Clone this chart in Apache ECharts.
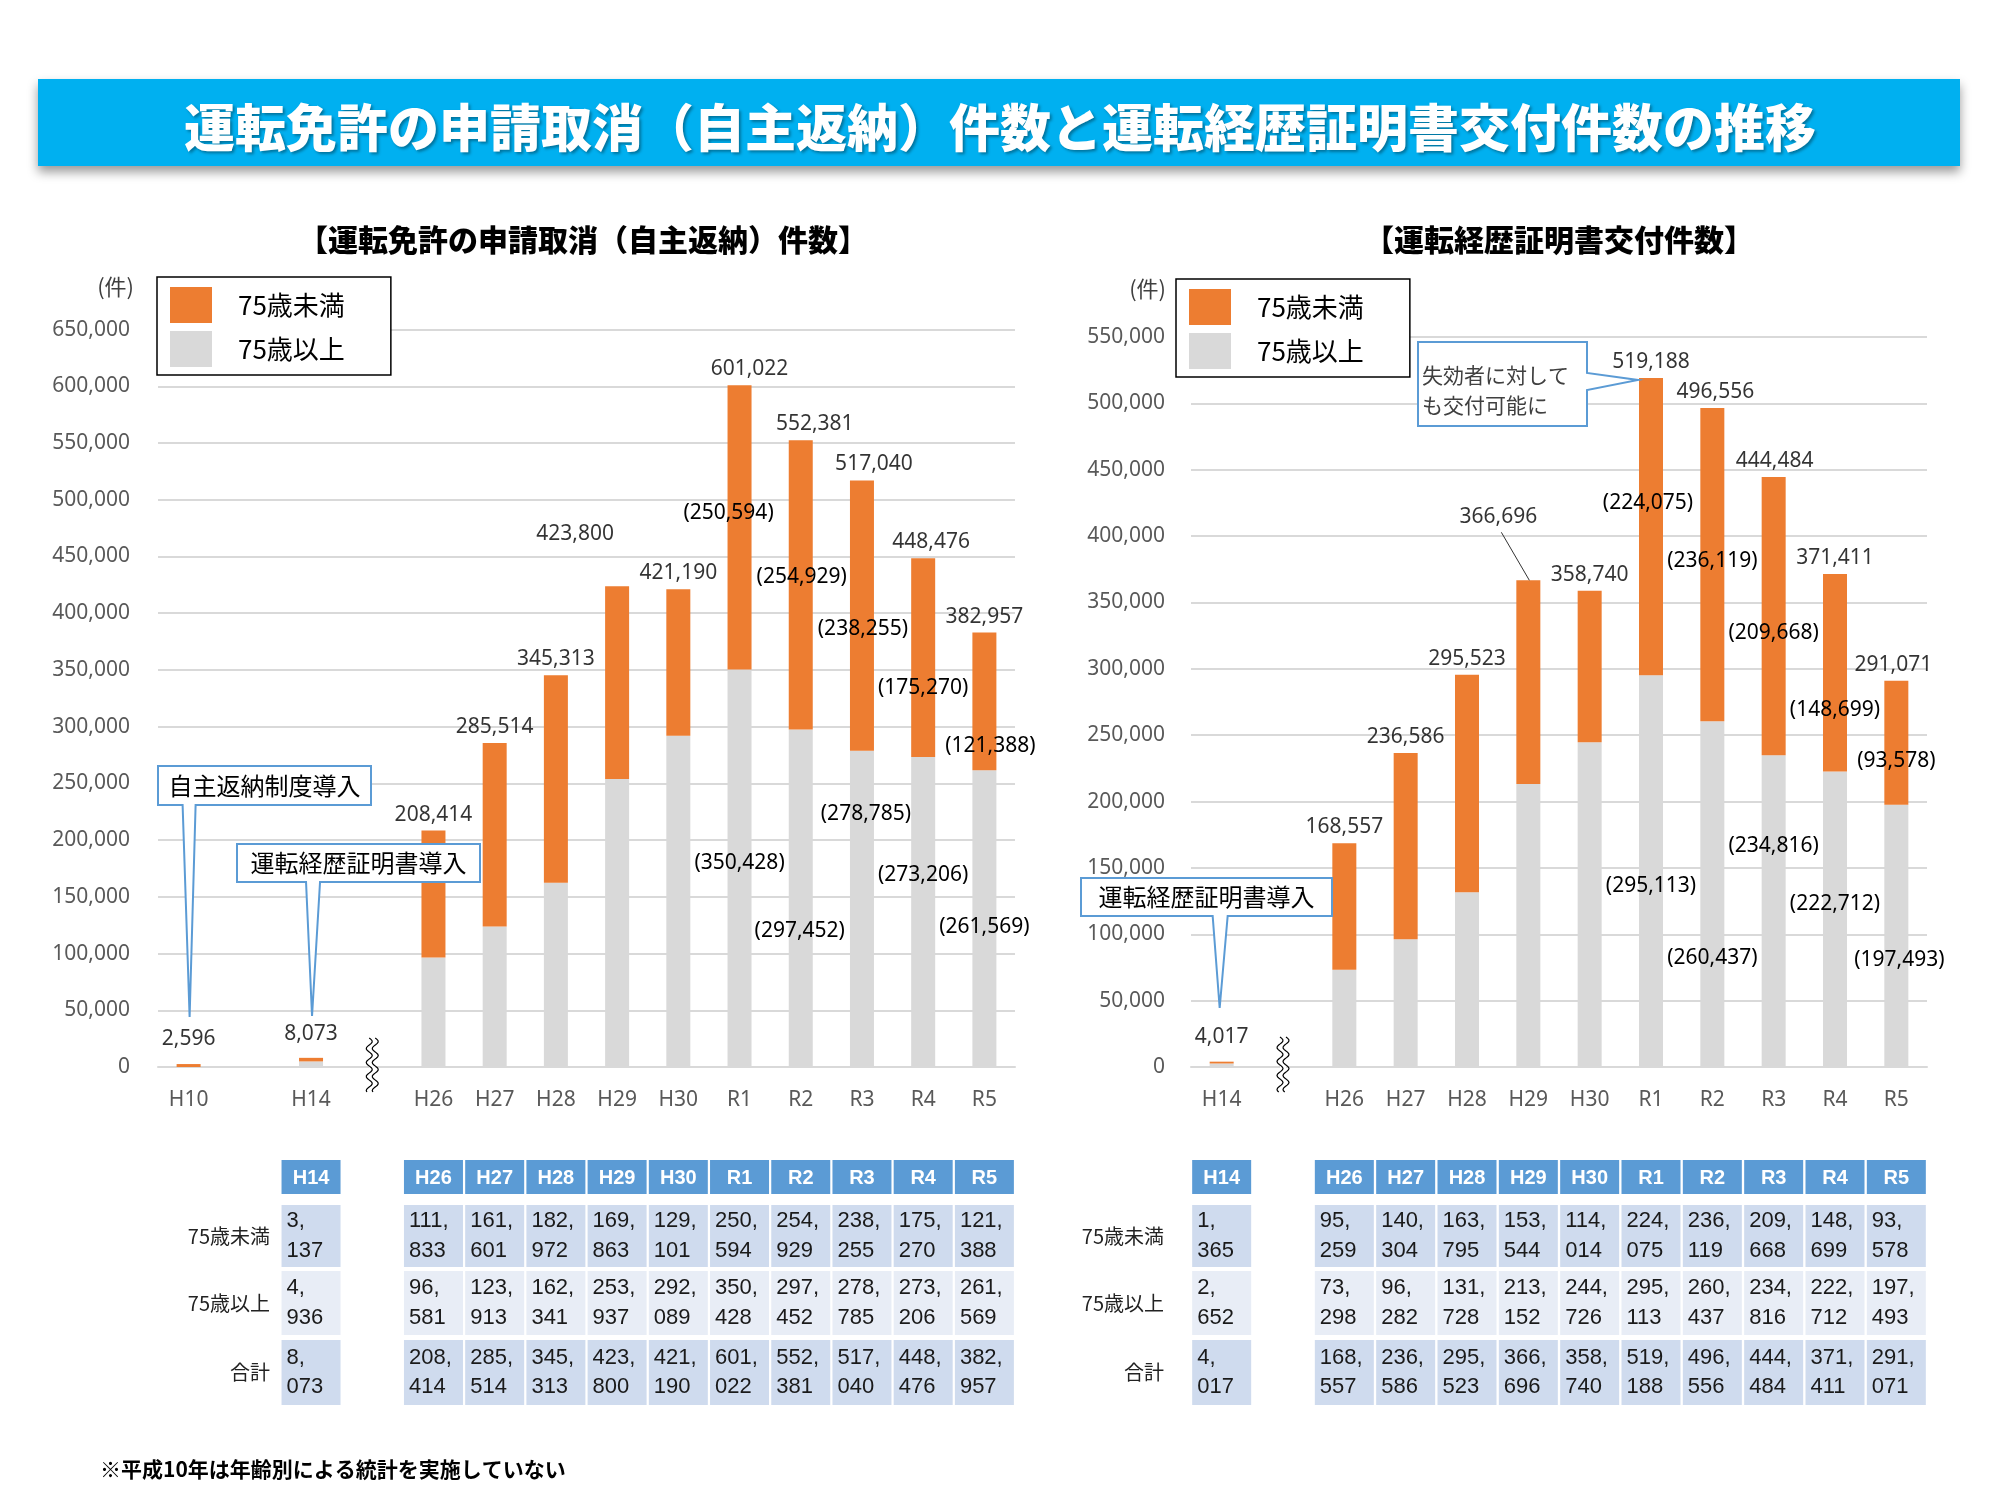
<!DOCTYPE html>
<html><head><meta charset="utf-8">
<script src="https://cdn.jsdelivr.net/npm/echarts@6/dist/echarts.min.js"></script>
<style>html,body{margin:0;padding:0;background:#fff}#c{width:2000px;height:1500px}</style>
</head><body><div id="c"></div><script>
// ---------- data ----------
const catsA = ['H10','','H14',' ','H26','H27','H28','H29','H30','R1','R2','R3','R4','R5'];
const underA = [2596,null,3137,null,111833,161601,182972,169863,129101,250594,254929,238255,175270,121388];
const overA  = [null,null,4936,null,96581,123913,162341,253937,292089,350428,297452,278785,273206,261569];
const totalA = [2596,null,8073,null,208414,285514,345313,423800,421190,601022,552381,517040,448476,382957];

const catsB = ['H14',' ','H26','H27','H28','H29','H30','R1','R2','R3','R4','R5'];
const underB = [1365,null,95259,140304,163795,153544,114014,224075,236119,209668,148699,93578];
const overB  = [2652,null,73298,96282,131728,213152,244726,295113,260437,234816,222712,197493];
const totalB = [4017,null,168557,236586,295523,366696,358740,519188,496556,444484,371411,291071];

const seriesNames = ['75歳未満','75歳以上'];
const rowLabels = ['75歳未満','75歳以上','合計'];
const titleText = '運転免許の申請取消（自主返納）件数と運転経歴証明書交付件数の推移';
const subTitleA = '【運転免許の申請取消（自主返納）件数】';
const subTitleB = '【運転経歴証明書交付件数】';
const footnote = '※平成10年は年齢別による統計を実施していない';

// ---------- styling (label offsets etc.) ----------
const parenIdxA = [9,10,11,12,13];
const offUnderA = [[-11,-14],[1,-8],[1,13],[0,30],[6,45]];
const offOverA  = [[0,-5],[-1,33],[4,-95],[0,-37],[0,8]];
const parenIdxB = [7,8,9,10,11];
const offUnderB = [[-3,-24],[0,-4],[0,17],[0,37],[0,18]];
const offOverB  = [[0,15],[0,64],[0,-65],[0,-15],[3,24]];
const totOffA = {0:[0,-9],2:[0,-8],7:[-42,-36],9:[10,0],10:[14,0],11:[12,0],12:[8,0]};
const totOffB = {0:[0,-9],5:[-30,-47],8:[3,0],9:[1,0],11:[-3,0]};

const FONT = "'Noto Sans','Noto Sans CJK JP',sans-serif";
const JP = "'Noto Sans CJK JP',sans-serif";
const NUM = "'Liberation Sans',sans-serif";
const ORANGE = '#ED7D31', GREY = '#D9D9D9', BLUE = '#5B9BD5';

function fmt(v){ return Number(v).toLocaleString('en-US'); }
function fmt2(v){ return Math.floor(v/1000) + ',\n' + String(v%1000).padStart(3,'0'); }

function barData(vals, idxs, offs){
  return vals.map((v,i)=>{
    if (v == null) return '-';
    const k = idxs.indexOf(i);
    if (k < 0) return v;
    return {value:v, label:{show:true, position:'inside', offset:offs[k], color:'#000',
      fontSize:21, fontFamily:FONT, textBorderWidth:0,
      formatter:p=>'('+fmt(p.value)+')'}};
  });
}
function totData(vals, offs){
  const out = [];
  vals.forEach((v,i)=>{ if (v != null) out.push({value:[i,v], label:{offset: offs[i] || [0,0]}}); });
  return out;
}

function xAxisCfg(g, cats){
  return {type:'category', gridIndex:g, data:cats,
    axisLine:{lineStyle:{color:'#D9D9D9', width:2}}, axisTick:{show:false},
    axisLabel:{color:'#595959', fontSize:21, margin:23, interval:0, fontFamily:FONT}};
}
function yAxisCfg(g, max, margin){
  return {type:'value', gridIndex:g, min:0, max:max, interval:50000,
    axisLine:{show:false}, axisTick:{show:false},
    splitLine:{lineStyle:{color:'#D9D9D9', width:2}},
    axisLabel:{color:'#595959', fontSize:21, margin:margin, fontFamily:FONT, formatter:v=>fmt(v)}};
}
function legendCfg(left, top){
  return {data:seriesNames, orient:'vertical', left:left, top:top, itemWidth:42, itemHeight:36, itemGap:8,
    icon:'rect', padding:[10,46,8,13], borderColor:'#000', borderWidth:1.5, backgroundColor:'#fff',
    selectedMode:false, textStyle:{fontSize:26, color:'#000', fontFamily:JP, padding:[0,0,0,21]}};
}
function barSeries(name, g, stack, color, data){
  return {type:'bar', name:name, xAxisIndex:g, yAxisIndex:g, stack:stack, barWidth:24,
    itemStyle:{color:color}, label:{show:false}, data:data, silent:true};
}
function totSeries(g, data){
  return {type:'scatter', name:'合計'+g, xAxisIndex:g, yAxisIndex:g, symbolSize:1,
    itemStyle:{color:'rgba(0,0,0,0)'}, silent:true, z:5,
    label:{show:true, position:'top', distance:5, color:'#000', fontSize:21, fontFamily:FONT,
      formatter:p=>fmt(p.value[1])}, data:data};
}

const chart = echarts.init(document.getElementById('c'), null, {renderer:'canvas', width:2000, height:1500});
const option = {
  animation:false, backgroundColor:'#fff', textStyle:{fontFamily:FONT},
  grid:[{left:158, top:329.6, width:857, height:737.4}, {left:1191, top:337, width:736, height:730}],
  xAxis:[xAxisCfg(0, catsA), xAxisCfg(1, catsB)],
  yAxis:[yAxisCfg(0, 650000, 28), yAxisCfg(1, 550000, 26)],
  legend:[legendCfg(157, 277), legendCfg(1176, 279)],
  series:[
    barSeries('75歳以上', 0, 'a', GREY, barData(overA, parenIdxA, offOverA)),
    barSeries('75歳未満', 0, 'a', ORANGE, barData(underA, parenIdxA, offUnderA)),
    totSeries(0, totData(totalA, totOffA)),
    barSeries('75歳以上', 1, 'b', GREY, barData(overB, parenIdxB, offOverB)),
    barSeries('75歳未満', 1, 'b', ORANGE, barData(underB, parenIdxB, offUnderB)),
    totSeries(1, totData(totalB, totOffB))
  ]
};
chart.setOption(option);

// ---------- annotations & tables (positioned through the axes) ----------
const px = (g, i, v) => chart.convertToPixel({gridIndex:g}, [i, v]);
const G = [];
function txt(x, y, text, o){
  G.push({type:'text', x:x, y:y, z:100, style:Object.assign({text:text, fill:'#000', fontSize:21,
    fontFamily:JP, align:'center', verticalAlign:'middle'}, o||{})});
}
// title bar
G.push({type:'rect', z:90, shape:{x:38, y:79, width:1922, height:87},
  style:{fill:'#00B0F0', shadowBlur:10, shadowOffsetY:6, shadowColor:'rgba(0,0,0,0.4)'}});
txt(1000, 128, titleText, {fill:'#fff', fontSize:51, fontWeight:900,
  textShadowColor:'rgba(0,0,0,0.35)', textShadowBlur:3, textShadowOffsetX:2, textShadowOffsetY:2});
// subtitles
txt(583, 240, subTitleA, {fontSize:30, fontWeight:900});
txt(1559, 240, subTitleB, {fontSize:30, fontWeight:900});
// unit
txt(134, 287, '(件)', {fontSize:22, align:'right', fill:'#404040'});
txt(1166, 289, '(件)', {fontSize:22, align:'right', fill:'#404040'});

// callouts
function calloutDown(x0,y0,x1,y1,b1,b2,tx,ty,text,fs){
  G.push({type:'polygon', z:95, shape:{points:[[x0,y0],[x1,y0],[x1,y1],[b2,y1],[tx,ty],[b1,y1],[x0,y1]]},
    style:{fill:'#fff', stroke:BLUE, lineWidth:2}});
  txt((x0+x1)/2, (y0+y1)/2, text, {fontSize:fs});
}
const tA1 = px(0, 0, 0), tA2 = px(0, 2, 0), tB1 = px(1, 0, 0);
calloutDown(158,766,371,805, tA1[0]-6, tA1[0]+7, tA1[0]+1, 1017, '自主返納制度導入', 24);
calloutDown(237,844,480,882, tA2[0]-5, tA2[0]+9, tA2[0]+1, 1016, '運転経歴証明書導入', 24);
calloutDown(1081,878,1332,916, tB1[0]-9, tB1[0]+6, tB1[0]-2, 1008, '運転経歴証明書導入', 24);
// right-pointing callout
const tB2 = px(1, 7, 500000);
G.push({type:'polygon', z:95, shape:{points:[[1418,342],[1587,342],[1587,373],[tB2[0]-13,380],[1587,390],[1587,426],[1418,426]]},
  style:{fill:'#fff', stroke:BLUE, lineWidth:2}});
txt(1422, 375, '失効者に対して', {fontSize:21, align:'left', fill:'#404040'});
txt(1422, 405, 'も交付可能に', {fontSize:21, align:'left', fill:'#404040'});

// leader line for B H29
const lB = px(1, 5, totalB[5]);
G.push({type:'line', z:95, shape:{x1:lB[0]-27, y1:lB[1]-48, x2:lB[0]+1, y2:lB[1]}, style:{stroke:'#333', lineWidth:1}});

// axis break waves
function wave(cx, y0, h){
  const mk = dx => { const pts=[]; for(let k=0;k<=40;k++){ const y=y0+h*k/40; pts.push([cx+dx+3*Math.sin(k/40*h/14*2*Math.PI), y]); } return pts; };
  G.push({type:'rect', z:96, shape:{x:cx-3, y:y0+2, width:6, height:h-4}, style:{fill:'#fff'}});
  G.push({type:'polyline', z:97, shape:{points:mk(-3)}, style:{stroke:'#000', lineWidth:1.2, fill:null}});
  G.push({type:'polyline', z:97, shape:{points:mk(3)}, style:{stroke:'#000', lineWidth:1.2, fill:null}});
}
wave(px(0,3,0)[0], 1038, 54);
wave(px(1,1,0)[0], 1037, 55);

// tables
const rowY = [[1205,1267],[1271,1335],[1340,1405]];
const rowFill = ['#CFDBEE','#E8EDF6','#CFDBEE'];
function table(g, cats, under, over, total, labelRight){
  const rows = [under, over, total];
  rowLabels.forEach((t,r)=> txt(labelRight, (rowY[r][0]+rowY[r][1])/2, t, {fontSize:20, align:'right', fill:'#222'}));
  cats.forEach((c,i)=>{
    if (over[i] == null) return;
    const cx = px(g, i, 0)[0];
    const x = cx - 29.5, w = 59;
    G.push({type:'rect', z:90, shape:{x:x, y:1160, width:w, height:34}, style:{fill:BLUE}});
    txt(cx, 1178, c, {fill:'#fff', fontWeight:'bold', fontSize:20, fontFamily:NUM});
    rows.forEach((arr,r)=>{
      G.push({type:'rect', z:90, shape:{x:x, y:rowY[r][0], width:w, height:rowY[r][1]-rowY[r][0]}, style:{fill:rowFill[r]}});
      txt(x+5, (rowY[r][0]+rowY[r][1])/2, fmt2(arr[i]), {align:'left', fontSize:22, lineHeight:29.5,
        fill:'#1a1a1a', fontFamily:NUM});
    });
  });
}
table(0, catsA, underA, overA, totalA, 270);
table(1, catsB, underB, overB, totalB, 1164);

// footnote
txt(100, 1469, footnote, {align:'left', fontSize:21, fontWeight:'bold'});

chart.setOption({graphic:G});
</script></body></html>
